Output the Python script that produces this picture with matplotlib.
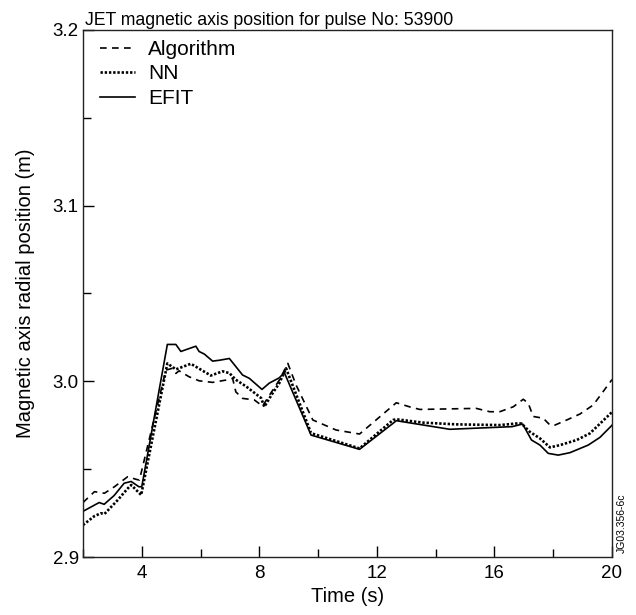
import matplotlib
matplotlib.use("Agg")
import matplotlib.pyplot as plt
from matplotlib.ticker import MultipleLocator

plt.rcParams['font.family'] = ['Liberation Sans', 'DejaVu Sans']

# ---- data ----
t_alg = [2.0, 2.39, 2.73, 3.07, 3.52, 3.81, 3.92, 4.82, 5.04, 5.16, 5.27, 5.61, 5.95, 6.41,
         6.86, 7.09, 7.2, 7.43, 7.83, 8.11, 8.34, 8.68, 8.97, 9.25, 9.82, 10.61, 11.41,
         12.66, 13.11, 13.46, 15.38, 15.84, 16.18, 16.64, 16.98, 17.15, 17.32, 17.66,
         17.89, 18.06, 18.46, 18.91, 19.36, 20.0]
y_alg = [2.931, 2.9372, 2.9363, 2.940, 2.9457, 2.9442, 2.9438, 3.0064, 3.0074, 3.0045, 3.006,
         3.0026, 3.0003, 2.9994, 3.0007, 3.0017, 2.994, 2.9903, 2.9894, 2.9859, 2.992, 3.0007,
         3.0102, 2.9979, 2.978, 2.9723, 2.970, 2.9878, 2.9855, 2.984, 2.9846, 2.9827, 2.9827,
         2.9855, 2.9898, 2.9875, 2.980, 2.979, 2.9751, 2.9751, 2.978, 2.9814, 2.9865, 3.001]

t_nn = [2.0, 2.39, 2.61, 2.73, 3.18, 3.52, 3.64, 3.98, 4.87, 5.16, 5.67, 6.35, 6.75, 6.98,
        7.2, 7.55, 8.06, 8.17, 8.45, 8.68, 8.91, 9.76, 11.41, 12.55, 12.66, 13.57, 14.7,
        16.18, 16.75, 16.92, 17.2, 17.55, 17.89, 18.23, 18.8, 19.25, 20.0]
y_nn = [2.9182, 2.9233, 2.9249, 2.9245, 2.9324, 2.939, 2.941, 2.9353, 3.0102, 3.0068, 3.010,
        3.0033, 3.0057, 3.0047, 3.0009, 2.9971, 2.9905, 2.9855, 2.9932, 2.999, 3.0074, 2.9705,
        2.9618, 2.978, 2.9784, 2.9765, 2.9755, 2.9751, 2.976, 2.976, 2.9713, 2.9675, 2.9624,
        2.9637, 2.9666, 2.9704, 2.9825]

t_efit = [2.0, 2.55, 2.72, 3.06, 3.4, 3.64, 3.9, 4.0, 4.87, 5.16, 5.33, 5.84, 5.95, 6.13,
          6.41, 6.64, 6.98, 7.43, 7.66, 8.09, 8.34, 8.68, 8.85, 9.76, 11.41, 12.55, 12.66,
          14.48, 16.6, 16.96, 17.26, 17.55, 17.83, 18.17, 18.57, 19.19, 19.59, 20.0]
y_efit = [2.926, 2.931, 2.930, 2.935, 2.942, 2.943, 2.940, 2.940, 3.021, 3.021, 3.017, 3.020,
          3.017, 3.0155, 3.0115, 3.012, 3.013, 3.0036, 3.0017, 2.9954, 2.999, 3.002, 3.005,
          2.9694, 2.9613, 2.9761, 2.9776, 2.9727, 2.9742, 2.9757, 2.9666, 2.9637, 2.959,
          2.958, 2.9594, 2.9637, 2.9681, 2.975]

labels = ["Algorithm", "NN", "EFIT"]
title = "JET magnetic axis position for pulse No: 53900"

fig = plt.figure(figsize=(6.36, 6.15), dpi=100)
ax = fig.add_axes([83/636, 58/615, 529/636, 527/615])

ax.plot(t_alg, y_alg, color='black', lw=1.2, linestyle=(0, (4, 3.2)), label=labels[0])
ax.plot(t_nn, y_nn, color='black', lw=1.9, linestyle=(0, (0.9, 0.7)), label=labels[1])
ax.plot(t_efit, y_efit, color='black', lw=1.2, linestyle='-', label=labels[2])

ax.set_xlim(2, 20)
ax.set_ylim(2.9, 3.2)
ax.xaxis.set_minor_locator(MultipleLocator(2))
ax.yaxis.set_minor_locator(MultipleLocator(0.05))
ax.set_xticks([4, 8, 12, 16, 20])
ax.set_yticks([2.9, 3.0, 3.1, 3.2])
ax.set_yticklabels(["2.9", "3.0", "3.1", "3.2"])
ax.tick_params(which='major', direction='in', length=8, width=1, labelsize=13.5, pad=6, colors='black')
ax.tick_params(which='minor', direction='in', length=6, width=1)
ax.tick_params(axis='y', which='major', pad=3)
ax.tick_params(top=False, right=False, which='both')

for s in ax.spines.values():
    s.set_linewidth(1.0)
    s.set_color('#222222')

ax.set_xlabel("Time (s)", fontsize=14.5, labelpad=3)
ax.set_ylabel("Magnetic axis radial position (m)", fontsize=14.5, labelpad=13)

ax.text(0.004, 1 + 5/527, title, transform=ax.transAxes, fontsize=12.7,
        ha='left', va='baseline')

leg = ax.legend(loc='upper left', bbox_to_anchor=(0.032, 0.981), borderaxespad=0,
                borderpad=0, frameon=False, fontsize=15, handlelength=1.7,
                handletextpad=0.62, labelspacing=0.26)

fig.text(622/636, 62/615, "JG03.356-6c", rotation=90, fontsize=7.5,
         ha='center', va='bottom')

fig.savefig("out.png", dpi=100)
